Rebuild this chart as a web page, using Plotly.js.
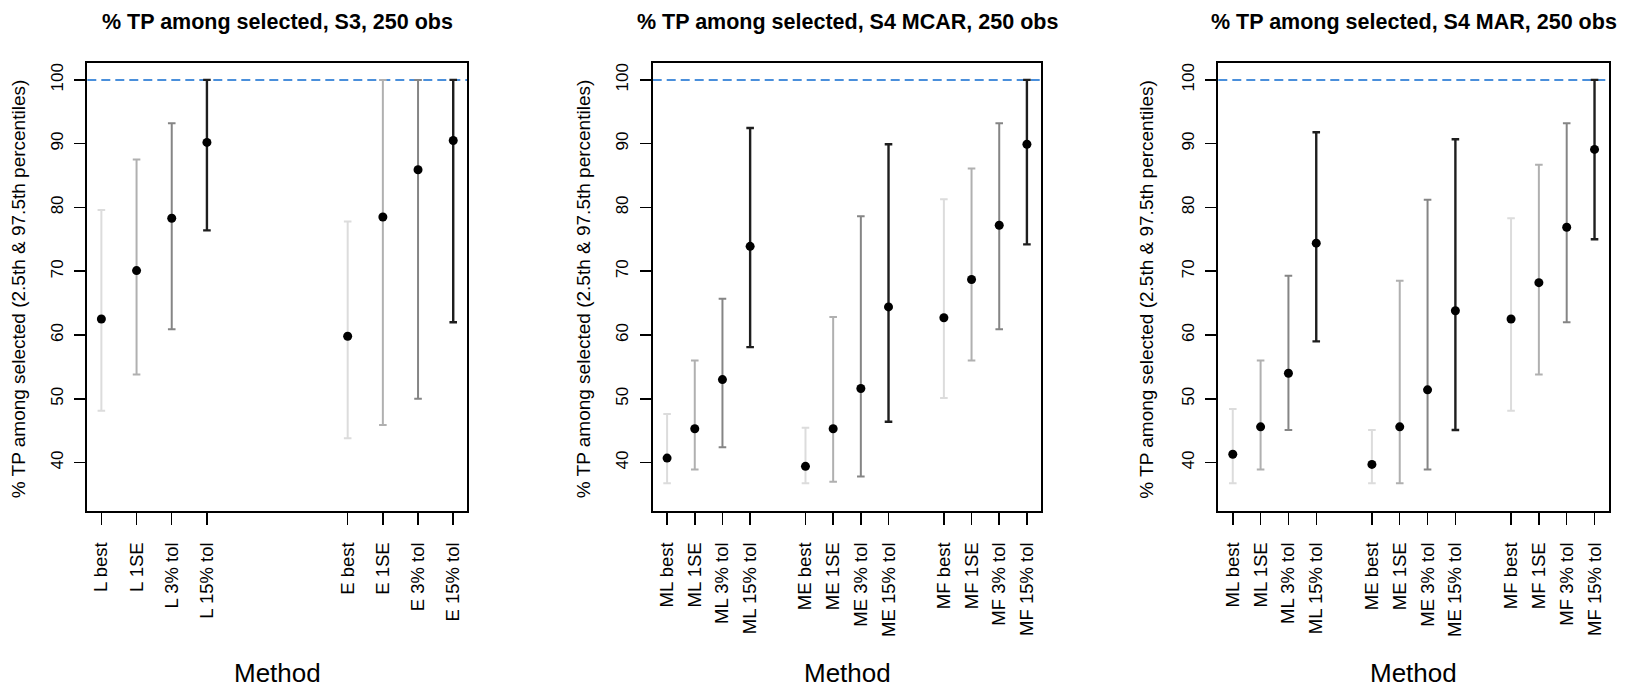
<!DOCTYPE html>
<html><head><meta charset="utf-8">
<script src="https://cdn.plot.ly/plotly-3.0.1.min.js"></script>
<style>html,body{margin:0;padding:0;background:#fff}#chart{width:1646px;height:688px}</style>
</head><body><div id="chart"></div>
<script>
// ---- data ----
const panelTitles = ["% TP among selected, S3, 250 obs", "% TP among selected, S4 MCAR, 250 obs", "% TP among selected, S4 MAR, 250 obs"];
const yAxisTitle = "% TP among selected (2.5th & 97.5th percentiles)";
const xAxisTitle = "Method";
const yTicks = [40, 50, 60, 70, 80, 90, 100];
const refLineValue = 100;

const s3Labels = ["L best", "L 1SE", "L 3% tol", "L 15% tol", "E best", "E 1SE", "E 3% tol", "E 15% tol"];
const s3Mean = [62.5, 70.1, 78.3, 90.2, 59.8, 78.5, 85.9, 90.5];
const s3Low  = [48.1, 53.8, 60.9, 76.4, 43.8, 45.9, 50.0, 62.0];
const s3High = [79.6, 87.5, 93.2, 100, 77.8, 100, 100, 100];

const s4Labels = ["ML best", "ML 1SE", "ML 3% tol", "ML 15% tol", "ME best", "ME 1SE", "ME 3% tol", "ME 15% tol", "MF best", "MF 1SE", "MF 3% tol", "MF 15% tol"];
const mcarMean = [40.7, 45.3, 53.0, 73.9, 39.4, 45.3, 51.6, 64.4, 62.7, 68.7, 77.2, 89.9];
const mcarLow  = [36.75, 38.9, 42.4, 58.1, 36.75, 37.0, 37.8, 46.4, 50.1, 56.0, 60.9, 74.2];
const mcarHigh = [47.6, 56.0, 65.7, 92.45, 45.45, 62.8, 78.6, 89.9, 81.3, 86.1, 93.2, 100];

const marMean = [41.3, 45.6, 54.0, 74.4, 39.7, 45.6, 51.4, 63.8, 62.5, 68.2, 76.9, 89.1];
const marLow  = [36.75, 38.9, 45.1, 59.0, 36.75, 36.75, 38.9, 45.1, 48.1, 53.8, 62.0, 75.0];
const marHigh = [48.4, 56.0, 69.3, 91.8, 45.1, 68.5, 81.2, 90.7, 78.3, 86.7, 93.2, 100];

// ---- style ----
const FONT = '"Liberation Sans", Arial, Helvetica, sans-serif';
const levelColors = ['#DCDCDC', '#B0B0B0', '#858585', '#1E1E1E'];
const levelWidths = [2, 2, 2, 2.4];
const W = 1646, H = 688;
const panels = [
  {labels: s3Labels, mean: s3Mean, low: s3Low, high: s3High, gap: 3, box: [87.3, 467.3], ytitleX: 18.3},
  {labels: s4Labels, mean: mcarMean, low: mcarLow, high: mcarHigh, gap: 1, box: [652.7, 1041.3], ytitleX: 583.3},
  {labels: s4Labels, mean: marMean, low: marLow, high: marHigh, gap: 1, box: [1218.3, 1609], ytitleX: 1145.8}
];
const boxTop = 63.3, boxBottom = 511;
const yDomain = [(H - boxBottom) / H, (H - boxTop) / H];

const traces = [];
const layout = {
  width: W, height: H,
  margin: {l: 0, r: 0, t: 0, b: 0},
  paper_bgcolor: '#fff', plot_bgcolor: '#fff',
  showlegend: false,
  font: {family: FONT, color: '#000'},
  shapes: [], annotations: []
};

panels.forEach((p, pi) => {
  const n = p.labels.length;
  const pos = p.labels.map((_, i) => Math.floor(i / 4) * (4 + p.gap) + (i % 4) + 1);
  const xa = pi === 0 ? 'x' : 'x' + (pi + 1);
  const ya = pi === 0 ? 'y' : 'y' + (pi + 1);
  const xKey = pi === 0 ? 'xaxis' : 'xaxis' + (pi + 1);
  const yKey = pi === 0 ? 'yaxis' : 'yaxis' + (pi + 1);
  for (let lev = 0; lev < 4; lev++) {
    const idx = [];
    for (let i = 0; i < n; i++) if (i % 4 === lev) idx.push(i);
    traces.push({
      type: 'scatter', mode: 'markers', xaxis: xa, yaxis: ya,
      x: idx.map(i => pos[i]), y: idx.map(i => p.mean[i]),
      marker: {color: '#000', size: 9},
      error_y: {type: 'data', symmetric: false,
        array: idx.map(i => p.high[i] - p.mean[i]),
        arrayminus: idx.map(i => p.mean[i] - p.low[i]),
        color: levelColors[lev], thickness: levelWidths[lev], width: 3.8},
      hoverinfo: 'x+y'
    });
  }
  const maxPos = pos[n - 1];
  const ext = (maxPos - 1) * 0.04;
  layout[xKey] = {
    domain: [p.box[0] / W, p.box[1] / W], anchor: ya,
    range: [1 - ext, maxPos + ext],
    tickmode: 'array', tickvals: pos, ticktext: p.labels, tickangle: -90,
    ticks: 'outside', ticklen: 12, tickwidth: 1.5, tickcolor: '#000',
    ticklabelstandoff: 10,
    tickfont: {family: FONT, size: 18.5, color: '#000'},
    showline: true, mirror: true, linecolor: '#000', linewidth: 2,
    showgrid: false, zeroline: false, automargin: false
  };
  layout[yKey] = {
    domain: yDomain, anchor: xa,
    range: [32.4, 102.6],
    tickmode: 'array', tickvals: yTicks, ticktext: yTicks.map(String), tickangle: -90,
    ticks: 'outside', ticklen: 11, tickwidth: 1.5, tickcolor: '#000',
    ticklabelstandoff: 5,
    tickfont: {family: FONT, size: 17, color: '#000'},
    showline: true, mirror: true, linecolor: '#000', linewidth: 2,
    showgrid: false, zeroline: false, automargin: false
  };
  layout.shapes.push({
    type: 'line', xref: xa + ' domain', yref: ya,
    x0: 0, x1: 1, y0: refLineValue, y1: refLineValue,
    line: {color: '#4A8FDB', width: 2, dash: '9px,5px'}, layer: 'below'
  });
  const cx = (p.box[0] + p.box[1]) / 2 / W;
  layout.annotations.push({
    text: '<b>' + panelTitles[pi] + '</b>', xref: 'paper', yref: 'paper',
    x: cx, y: 1 - 22 / H, xanchor: 'center', yanchor: 'middle', showarrow: false,
    font: {family: FONT, size: 21.5, color: '#000'}
  });
  layout.annotations.push({
    text: yAxisTitle, xref: 'paper', yref: 'paper', textangle: -90,
    x: p.ytitleX / W, y: 1 - 289 / H, xanchor: 'center', yanchor: 'middle', showarrow: false,
    font: {family: FONT, size: 19, color: '#000'}
  });
  layout.annotations.push({
    text: xAxisTitle, xref: 'paper', yref: 'paper',
    x: cx, y: 1 - 673 / H, xanchor: 'center', yanchor: 'middle', showarrow: false,
    font: {family: FONT, size: 26, color: '#000'}
  });
});

Plotly.newPlot('chart', traces, layout, {displayModeBar: false, staticPlot: true});
</script>
</body></html>
